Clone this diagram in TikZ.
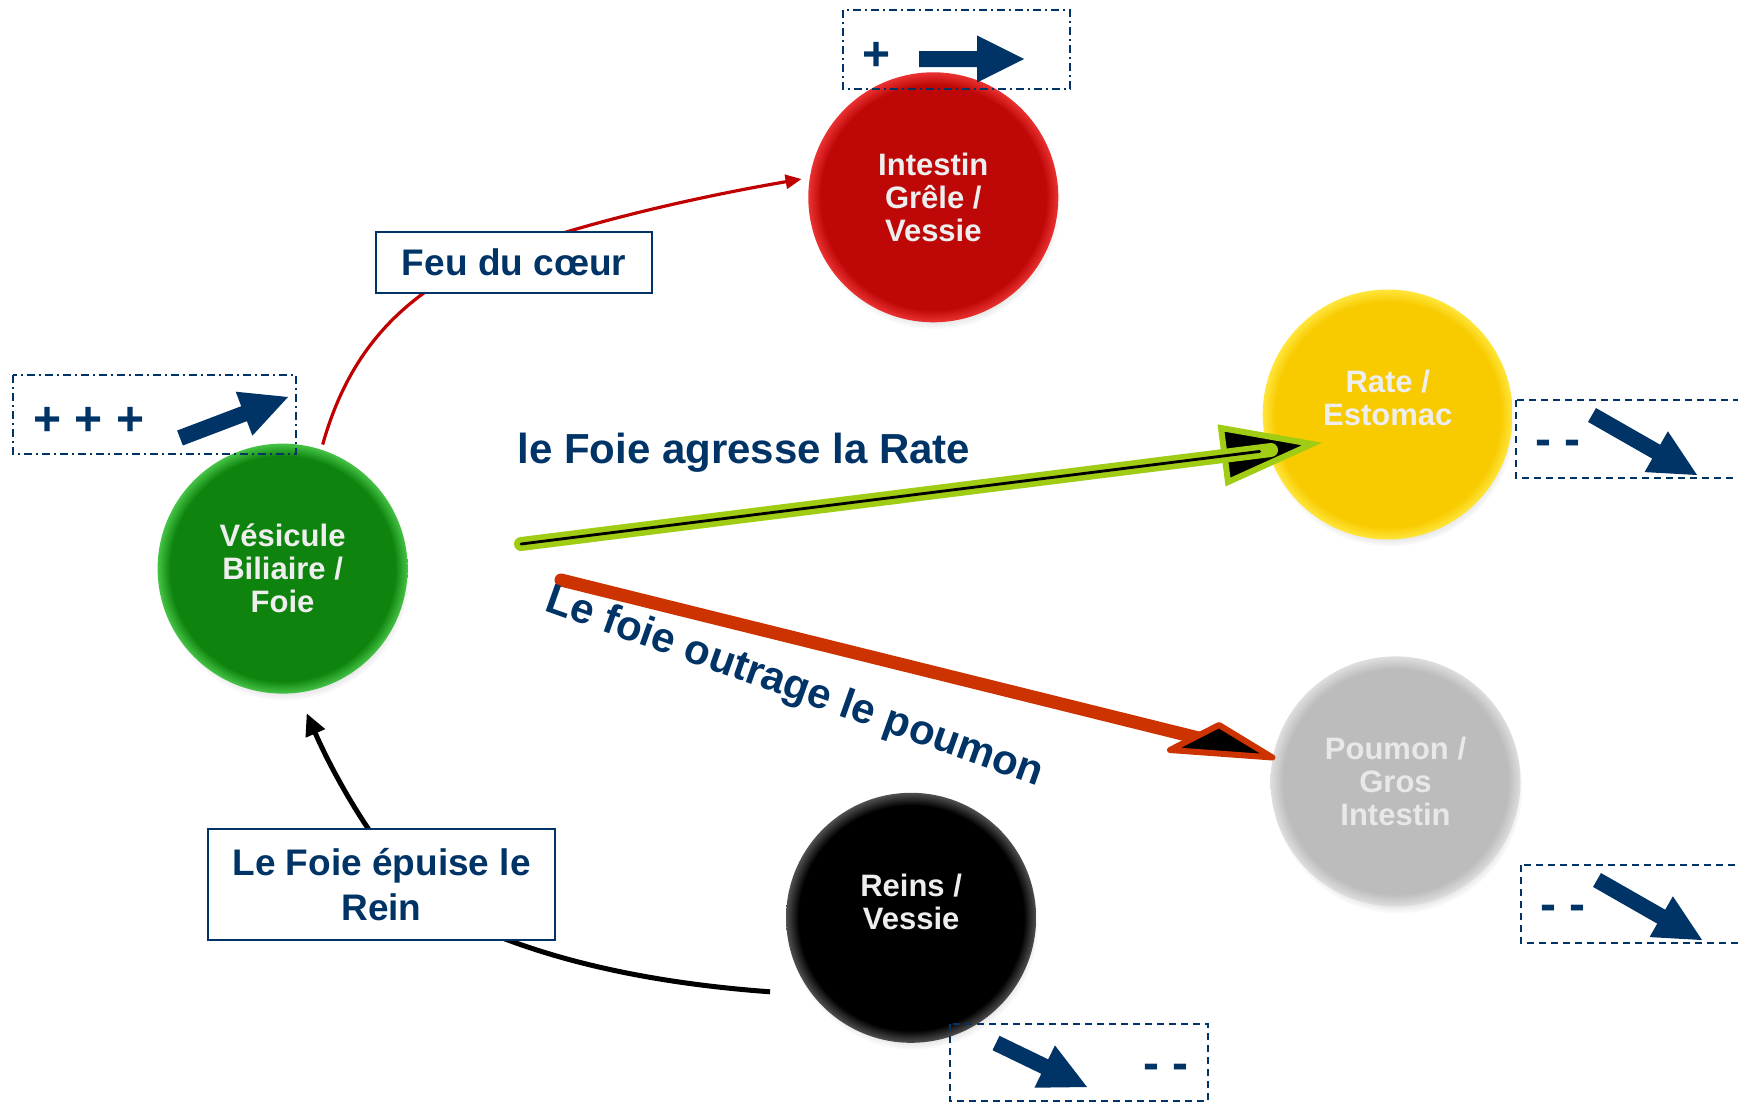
\documentclass[tikz,border=0pt]{standalone}
\usepackage{fontspec}
\setmainfont{Liberation Sans}
\usetikzlibrary{calc,shadows,arrows.meta}

\definecolor{navy}{RGB}{0,51,102}
\definecolor{redc}{RGB}{190,8,8}
\definecolor{redr}{RGB}{235,50,50}
\definecolor{grnc}{RGB}{14,132,14}
\definecolor{grnr}{RGB}{70,195,70}
\definecolor{ylwc}{RGB}{248,202,0}
\definecolor{ylwr}{RGB}{255,230,60}
\definecolor{gryc}{RGB}{188,188,188}
\definecolor{gryr}{RGB}{222,222,222}
\definecolor{blkc}{RGB}{0,0,0}
\definecolor{blkr}{RGB}{80,80,80}
\definecolor{limeg}{RGB}{160,204,20}
\definecolor{orred}{RGB}{204,51,0}
\definecolor{thinred}{RGB}{192,0,0}
\definecolor{ctext}{RGB}{238,238,238}

\pgfdeclareradialshading{redball}{\pgfpoint{0bp}{0bp}}{color(0bp)=(redc); color(22.5bp)=(redc); color(25bp)=(redr); color(50bp)=(redr)}
\pgfdeclareradialshading{grnball}{\pgfpoint{0bp}{0bp}}{color(0bp)=(grnc); color(22.5bp)=(grnc); color(25bp)=(grnr); color(50bp)=(grnr)}
\pgfdeclareradialshading{ylwball}{\pgfpoint{0bp}{0bp}}{color(0bp)=(ylwc); color(22.5bp)=(ylwc); color(25bp)=(ylwr); color(50bp)=(ylwr)}
\pgfdeclareradialshading{gryball}{\pgfpoint{0bp}{0bp}}{color(0bp)=(gryc); color(22.5bp)=(gryc); color(25bp)=(gryr); color(50bp)=(gryr)}
\pgfdeclareradialshading{blkball}{\pgfpoint{0bp}{0bp}}{color(0bp)=(blkc); color(22.5bp)=(blkc); color(25bp)=(blkr); color(50bp)=(blkr)}

\newcommand\blkarrow[2]{%
  \coordinate (baS) at (#1);
  \coordinate (baT) at (#2);
  \coordinate (baB) at ($(baT)!23.5pt!(baS)$);
  \fill[navy] ($(baS)!4pt!90:(baT)$) -- ($(baB)!4pt!-90:(baS)$) -- ($(baB)!11.75pt!-90:(baS)$) -- (baT)
     -- ($(baB)!11.75pt!90:(baS)$) -- ($(baB)!4pt!90:(baS)$) -- ($(baS)!4pt!-90:(baT)$) -- cycle;}

\begin{document}
\begin{tikzpicture}[x=0.5pt,y=-0.5pt,
  ball/.style={circle, minimum size=125pt, inner sep=0pt, align=center, shade,
    font=\bfseries\fontsize{15.5}{16.5}\selectfont, text=ctext,
    circular drop shadow={shadow xshift=1pt, shadow yshift=-3.5pt, shadow scale=1.0, fill=black!60, opacity=0.35}},
  lbox/.style={draw=navy, line width=1pt, fill=white, text=navy, align=center, inner sep=0pt,
    font=\bfseries\fontsize{18.5}{22.5}\selectfont},
  bigtxt/.style={text=navy, inner sep=0pt, anchor=base west, font=\bfseries\fontsize{21}{25}\selectfont},
  sgn/.style={text=navy, inner sep=0pt, anchor=base west, font=\bfseries\fontsize{24}{28}\selectfont},
  dd/.style={draw=navy, line width=1pt, dash pattern=on 4pt off 2pt on 1pt off 2pt},
  ds/.style={draw=navy, line width=1pt, dash pattern=on 3.5pt off 2.5pt}]

\clip (0,0) rectangle (1738,1103);
\fill[white] (0,0) rectangle (1738,1103);

% circles
\node[ball, shading=grnball] (green) at (282.6,568.6) {Vésicule\\Biliaire /\\Foie};
\node[ball, shading=redball] (red) at (933.3,197.3) {Intestin\\Grêle /\\Vessie};
\node[ball, shading=ylwball] (yellow) at (1387.7,414.5) {Rate /\\Estomac\\~};
\node[ball, shading=gryball, text={rgb,255:red,232;green,232;blue,232}] (grey) at (1395.5,781.4) {Poumon /\\Gros\\Intestin};
\node[ball, shading=blkball] (black) at (911.1,917.8) {Reins /\\Vessie\\~};

% thin red connector
\draw[thinred, line width=1.6pt, -{Triangle[length=8pt,width=7pt]}, shorten <=2.5pt, shorten >=4pt]
  (green.72) .. controls (343,372) and (380,320) .. (440,282) .. controls (500,245) and (650,205) .. (red.171.6);

% black connector
\coordinate (kA) at ($(black.center)+(-141,74)$);
\draw[black, line width=2.5pt, -{Triangle[length=11pt,width=10pt]}, shorten >=11pt]
  (kA) .. controls (650,983) and (540,960) .. (450,915) .. controls (400,890) and (340,790) .. (green.277.2);

% green thick arrow
\coordinate (gA) at (521,544);
\coordinate (gE) at (1271,450);
\filldraw[fill=black, draw=limeg, line width=3pt, line join=miter] (1312,444) -- (1221,428) -- (1228,482) -- cycle;
\draw[limeg, line width=7pt, line cap=round] (gA) -- (gE);
\draw[black, line width=1.4pt, line cap=round] (gA) -- ($(gA)!0.985!(gE)$);

% red thick arrow
\coordinate (rA) at (561,580);
\coordinate (rE) at (1235,747);
\draw[orred, line width=6.5pt, line cap=round] (rA) -- (rE);
\filldraw[fill=black, draw=orred, line width=3pt, line join=round] (grey.169) -- (1170,750) -- (1219,725) -- cycle;

% label boxes
\node[lbox, minimum width=138pt, minimum height=30.5pt] (feu) at (514,262.5) {Feu du cœur};
\node[lbox, minimum width=173.5pt, minimum height=55.5pt] (rein) at (381.5,884.5) {Le Foie épuise le\\Rein};

% big texts
\node[bigtxt] (agresse) at (517,463) {le Foie agresse la Rate};
\node[bigtxt, rotate=-19.6] (outrage) at (543,610) {Le foie outrage le poumon};

% dashed boxes
\draw[dd] (843,10) rectangle (1070,89);
\draw[dd] (13,375) rectangle (296,454);
\draw[ds] (1516,400) rectangle (1760,478);
\draw[ds] (1521,865) rectangle (1760,943);
\draw[ds] (950,1024) rectangle (1208,1101);

\node[sgn] (s1) at (862,70) {+};
\node[sgn] (s2) at (33,435) {+ + +};
\node[sgn] (s3) at (1535,455) {- -};
\node[sgn] (s4) at (1540,920) {- -};
\node[sgn] (s5) at (1143,1079) {- -};

\blkarrow{919,59}{1024,59}
\blkarrow{180,438}{288,397}
\blkarrow{1592,415}{1697,475}
\blkarrow{1597,880}{1702,940}
\blkarrow{996,1043}{1087,1087}
\end{tikzpicture}
\end{document}
